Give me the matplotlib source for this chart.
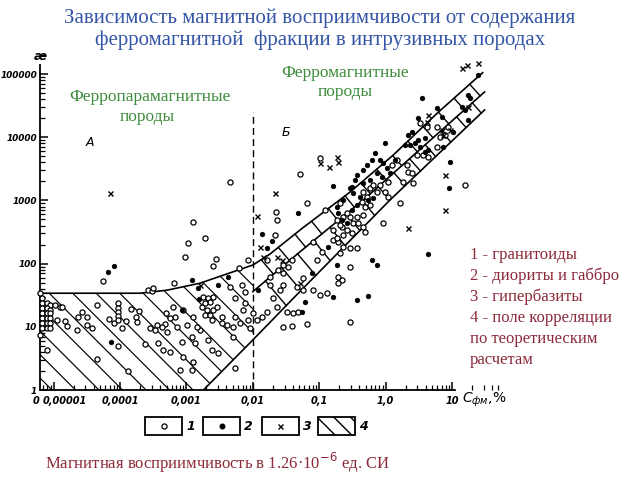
import numpy as np
import matplotlib
matplotlib.use('Agg')
import matplotlib.pyplot as plt
import matplotlib.transforms as mtransforms
from matplotlib.patches import Polygon, Rectangle
from matplotlib.ticker import LogLocator, NullFormatter

# ---------------- data (C_fm in %, kappa in 1.26e-6 SI units) ----------------
# 1 - granitoids (open circles)
gran_C = [6.2e-6, 6.7e-6, 6.7e-6, 7.9e-6, 8.8e-6, 1.05e-5, 1.25e-5, 6.7e-6, 7.9e-6, 8.8e-6,
          6.7e-6, 7.9e-6, 8.8e-6, 6.7e-6, 7.9e-6, 8.8e-6, 1.12e-5, 6.7e-6, 7.9e-6, 8.8e-6,
          6.7e-6, 7.9e-6, 8.8e-6, 6.2e-6, 7.9e-6, 1.34e-5,
          5.5e-5, 1.49e-5, 1.6e-5, 2.25e-5, 2.3e-5, 2.7e-5, 3.2e-5, 3.2e-5, 3.8e-5, 4.5e-5,
          6.8e-5, 8.1e-5, 9.3e-5, 9.3e-5, 9.3e-5, 9.3e-5, 9.3e-5, 1.07e-4, 1.23e-4, 1.47e-4,
          1.74e-4, 1.8e-4, 1.93e-4, 2.4e-4, 9.3e-5, 4.5e-5, 1.32e-4, 2.8e-4, 2.6e-4, 3.0e-4,
          4.5e-3, 1.26e-3, 1.9e-3, 1.06e-3, 9.5e-4, 2.8e-3, 2.5e-3, 6.5e-4, 6.2e-3, 8.5e-3,
          3.1e-4, 3.6e-4, 4.8e-4, 6.3e-4, 6.7e-4, 8.9e-4, 1.02e-3, 1.26e-3, 1.72e-3, 1.78e-3,
          2.1e-3, 2.26e-3, 2.5e-3, 1.9e-3, 2.04e-3, 2.5e-3, 2.9e-3, 1.9e-3, 2.26e-3, 2.43e-3,
          1.21e-3, 1.35e-3, 8.6e-4, 1.6e-3, 1.44e-3, 2.1e-3, 2.43e-3, 3.0e-3, 1.26e-3, 8.9e-4,
          1.21e-3, 8.0e-4, 3.4e-3, 3.4e-3, 4.1e-3, 5.0e-3, 6.4e-3, 5.4e-3, 5.4e-3, 4.5e-3,
          6.9e-3, 7.6e-3, 7.6e-3, 7.1e-3, 5.0e-3, 8.5e-3, 9.1e-3, 5.4e-3, 4.9e-4, 5.7e-4,
          7.2e-4, 3.4e-4, 4.3e-4, 5.1e-4, 3.7e-4, 5.7e-4, 4.4e-4,
          2.2e-2, 2.3e-2, 2.16e-2, 6.5e-2, 0.122, 0.206, 0.26, 0.32, 0.185, 0.22,
          0.23, 0.161, 0.19, 8.1e-2, 0.11, 9.3e-2, 0.206, 0.19, 0.22, 0.19,
          0.29, 0.131, 0.103, 8.1e-2, 5.7e-2, 4.6e-2, 2.85e-2, 2.6e-2, 1.8e-2, 2.85e-2,
          3.4e-2, 3.9e-2, 2.85e-2, 2.4e-2, 1.64e-2, 1.8e-2, 1.38e-2, 1.0e-2, 1.16e-2, 2.0e-2,
          2.3e-2, 3.3e-2, 4.0e-2, 4.8e-2, 2.85e-2, 3.9e-2, 6.5e-2, 0.29, 0.29, 0.37,
          5.7e-2, 1.64e-2, 1.65, 0.91, 5.1e-2, 0.103, 15.7,
          3.3, 4.2, 2.17, 1.83, 2.5, 2.59, 1.48, 1.25, 1.09, 0.82,
          0.74, 0.98, 1.09, 0.58, 0.65, 0.52, 0.46, 0.44, 0.49, 0.58,
          0.46, 0.37, 0.29, 0.23, 0.206, 0.26, 0.31, 0.38, 0.46, 0.49,
          0.161, 0.185, 0.23,
          5.94, 6.6, 7.8, 8.7, 5.94, 2.97, 3.66, 2.1, 4.35]
gran_K = [34, 28.6, 23.8, 23.8, 22.1, 22.1, 20.6, 19.8, 19.8, 18.4,
          16.5, 16.5, 16.5, 13.8, 13.8, 13.8, 12.8, 11.5, 11.5, 11.5,
          9.6, 9.6, 9.6, 7.4, 4.3, 20.6,
          53, 12.4, 10.3, 8.9, 14.3, 17.1, 14.3, 10.7, 9.6, 22.1,
          13.3, 11.5, 23.8, 19.8, 17.1, 14.8, 12.8, 9.6, 12.4, 19.1,
          14.3, 11.9, 17.8, 5.3, 5.0, 3.1, 2.0, 9.6, 38, 37,
          1950, 460, 250, 210, 127, 118, 92, 49, 85, 114,
          41, 10.7, 11.1, 20.6, 14.3, 18.4, 10.7, 14.3, 20.6, 30,
          28.6, 24.7, 30, 23.8, 18.4, 18.4, 20.6, 15.4, 15.4, 12.8,
          6.9, 5.5, 5.7, 8.9, 9.9, 6.2, 4.3, 3.85, 2.8, 3.3,
          2.07, 2.07, 14.3, 11.5, 10.7, 9.9, 11.5, 14.3, 28.6, 43,
          46, 36, 23.8, 18.4, 6.9, 12.8, 9.6, 2.2, 16.5, 13.8,
          9.9, 8.9, 9.9, 8.3, 5.5, 4.0, 4.3,
          650, 490, 280, 910, 700, 910, 630, 440, 490, 380,
          280, 240, 220, 220, 153, 114, 147, 61, 55, 49,
          88, 34, 32, 38, 38, 43, 46, 38, 61, 71,
          88, 114, 95, 79, 114, 46, 14.3, 16.5, 12.8, 28.6,
          20.6, 17.1, 16.5, 17.1, 9.9, 10.3, 11.1, 11.9, 177, 177,
          59, 17.1, 910, 440, 2600, 4700, 1750,
          16800, 14500, 2800, 1950, 2700, 1900, 4400, 3600, 1950, 1750,
          1360, 1360, 1130, 1570, 1750, 1130, 1360, 940, 790, 850,
          590, 550, 550, 550, 410, 340, 300, 440, 380, 320,
          340, 250, 180,
          14500, 10100, 10800, 14500, 7000, 5200, 5200, 3600, 4900]

# 2 - diorites and gabbro (filled dots)
dior_C = [6.6e-5, 8.1e-5, 7.3e-5, 1.21e-3, 1.5e-3, 1.55e-3, 8.6e-4, 3.0e-3, 4.2e-3, 0.161,
          0.31, 1.38e-2, 1.64e-2, 1.95e-2, 4.8e-2, 1.2e-2, 6.1e-2, 5.5e-2, 7.8e-2, 0.136,
          0.185, 0.161, 0.37, 0.23, 4.35, 0.62, 0.74, 0.54, 0.98, 2.5,
          1.96, 3.08, 3.92, 0.82, 0.91, 1.05, 0.62, 0.69, 0.52, 0.46,
          0.37, 0.35, 0.29, 0.32, 0.41, 0.37, 0.31, 0.185, 0.46, 0.58,
          0.74, 0.88, 1.16, 1.38, 0.54, 0.65, 2.33, 0.22, 0.19, 0.26,
          24.6, 17.4, 18.7, 14.1, 15.7, 3.53, 5.94, 7.06, 3.08, 2.17,
          3.3, 3.92, 9.3, 17.4, 10.4, 7.3, 2.77, 4.35, 9.0]
dior_K = [74, 92, 5.7, 55, 41, 27.5, 18.4, 46, 61, 1700,
          1630, 290, 177, 230, 630, 38, 24.7, 17.1, 71, 180,
          95, 30, 26.5, 1010, 142, 114, 95, 31, 8100, 12100,
          7500, 9000, 5800, 4400, 3900, 3300, 4400, 5600, 3600, 3000,
          2500, 2100, 1570, 1310, 1130, 850, 700, 790, 1900, 2100,
          2700, 2350, 2700, 4400, 1010, 1090, 7500, 490, 630, 440,
          96000, 46500, 41700, 30000, 26900, 41700, 29000, 20900, 20100, 10800,
          7000, 9700, 4100, 18700, 12100, 7000, 8100, 6300, 1570]

# 3 - hyperbasites (crosses)
hyp_C = [7.1e-5, 1.16e-2, 2.16e-2, 1.28e-2, 1.43e-2, 2.3e-2, 2.75e-2, 5.1e-2, 7.8, 2.17,
         0.185, 0.19, 0.103, 0.14, 14.1, 16.8, 24.6, 17.4, 9.3, 7.06,
         7.3, 4.35, 4.2, 7.8, 1.6e-3]
hyp_K = [1310, 570, 1310, 180, 127, 127, 114, 49, 700, 370,
         4900, 4100, 3900, 3400, 124000, 139000, 149000, 30000, 13000, 13000,
         10800, 22400, 17400, 2500, 46]

# 4 - correlation field from theoretical calculation (boundaries)
field_top_C = [6.2e-6, 2.0e-4, 5.1e-4, 1.6e-3, 5.0e-3, 1.0e-2]
field_top_K = [34, 34, 38, 49, 74, 95]
band_top_C = [1.0e-2, 1.8e-2, 5.6e-2, 0.29, 1.3, 6.0, 29]
band_top_K = [95, 141, 365, 1350, 5200, 24000, 105000]
band_mid_C = [1.0e-2, 5.1e-2, 0.46, 3.9, 31]
band_mid_K = [36, 153, 1010, 7500, 52000]
band_low_C = [1.8e-3, 1.0e-2, 5.1e-2, 1.16, 31]
band_low_K = [1, 6.2, 36, 1010, 27000]
divider_C = 0.01
divider_K = [1, 25000]

x_ticks = [1e-5, 1e-4, 1e-3, 1e-2, 1e-1, 1, 10]
x_labels = ['0,00001', '0,0001', '0,001', '0,01', '0,1', '1,0', '10']
y_ticks = [1, 10, 100, 1000, 10000, 100000]
y_labels = ['1', '10', '100', '1000', '10000', '100000']

legend_items = ['1 - гранитоиды', '2 - диориты и габбро', '3 - гипербазиты',
                '4 - поле корреляции', 'по теоретическим', 'расчетам']

# ---------------- figure ----------------
fig = plt.figure(figsize=(6.4, 4.8), dpi=100)
ax = fig.add_axes([40 / 640, 90 / 480, 460 / 640, 335 / 480])
ax.set_xscale('log')
ax.set_yscale('log')
ax.set_xlim(6.2e-6, 53)
ax.set_ylim(1, 2.0e5)
ax.patch.set_alpha(0)
for s in ['top', 'right']:
    ax.spines[s].set_visible(False)
ax.spines['bottom'].set_bounds(6.2e-6, 11.1)
ax.spines['left'].set_bounds(1, 1.38e5)
for s in ['bottom', 'left']:
    ax.spines[s].set_linewidth(1.3)

ax.set_xticks(x_ticks)
ax.set_xticklabels(x_labels)
ax.set_yticks(y_ticks)
ax.set_yticklabels(y_labels)
ax.xaxis.set_minor_locator(LogLocator(base=10, subs=np.arange(2, 10), numticks=100))
ax.yaxis.set_minor_locator(LogLocator(base=10, subs=np.arange(2, 10), numticks=100))
ax.xaxis.set_minor_formatter(NullFormatter())
ax.yaxis.set_minor_formatter(NullFormatter())
ax.tick_params(which='major', direction='in', length=6, width=1.1, pad=4)
ax.tick_params(which='minor', direction='in', length=3.5, width=0.9)
ax.tick_params(axis='y', which='major', pad=2)
for lab in ax.get_xticklabels():
    lab.set_fontstyle('italic')
    lab.set_fontsize(7)
    lab.set_fontweight('semibold')
for lab in ax.get_yticklabels():
    lab.set_fontstyle('italic')
    lab.set_fontsize(6.4)
    lab.set_fontweight('semibold')
# first x label sits a little to the right of its tick
first = ax.get_xticklabels()[0]
first.set_transform(first.get_transform() +
                    mtransforms.ScaledTranslation(11 / 100, 0, fig.dpi_scale_trans))

T = ax.transData
inv = T.inverted()

# region A polygon (used for clipping the hatching)
verts = list(zip(field_top_C, field_top_K)) + [(band_low_C[1], band_low_K[1]),
                                              (band_low_C[0], band_low_K[0]),
                                              (field_top_C[0], 1)]
poly = Polygon(verts, closed=True, fill=False, edgecolor='none')
ax.add_patch(poly)

dv = T.transform(np.array(verts))
ssum = dv[:, 0] + dv[:, 1]
x_lo, x_hi = dv[:, 0].min() - 10, dv[:, 0].max() + 10
for c in np.arange(ssum.min() + 12, ssum.max(), 23.5):
    p = inv.transform(np.array([[x_lo, c - x_lo], [x_hi, c - x_hi]]))
    ln, = ax.plot(p[:, 0], p[:, 1], color='black', lw=0.85)
    ln.set_clip_path(poly)

# boundary lines
ax.plot(field_top_C + band_top_C[1:], field_top_K + band_top_K[1:], color='black', lw=1.2)
ax.plot(band_mid_C, band_mid_K, color='black', lw=1.2)
ax.plot(band_low_C, band_low_K, color='black', lw=1.2)
ax.plot([divider_C, divider_C], divider_K, color='black', lw=1.0, ls=(0, (5, 3)))

# cross segments of the band (perpendicular to it, staggered)
top_d = T.transform(np.column_stack([band_top_C, band_top_K]))
mid_d = T.transform(np.column_stack([band_mid_C, band_mid_K]))
low_d = T.transform(np.column_stack([band_low_C, band_low_K]))
seg = np.diff(mid_d, axis=0)
seg_len = np.hypot(seg[:, 0], seg[:, 1])
cum = np.concatenate([[0], np.cumsum(seg_len)])


def point_on(s):
    i = min(np.searchsorted(cum, s, side='right') - 1, len(seg) - 1)
    i = max(i, 0)
    t = seg[i] / seg_len[i]
    return mid_d[i] + t * (s - cum[i]), t


def hit(p, n, pl):
    best = None
    for a, b in zip(pl[:-1], pl[1:]):
        M = np.array([[n[0], -(b - a)[0]], [n[1], -(b - a)[1]]])
        if abs(np.linalg.det(M)) < 1e-9:
            continue
        tt, u = np.linalg.solve(M, a - p)
        if -0.05 <= u <= 1.05 and tt > 0:
            if best is None or tt < best:
                best = tt
    return None if best is None else p + best * n


step = 21.0
for k, s in enumerate(np.arange(6, cum[-1], step / 2)):
    p, t = point_on(s)
    n = np.array([-t[1], t[0]])
    if k % 2 == 0:
        q = hit(p, n, top_d)
    else:
        q = hit(p, -n, low_d)
    if q is None:
        continue
    d = inv.transform(np.array([p, q]))
    ax.plot(d[:, 0], d[:, 1], color='black', lw=1.0)
# end cap
p, t = point_on(cum[-1])
n = np.array([-t[1], t[0]])
q1 = hit(p - 2 * t, n, top_d)
q2 = hit(p - 2 * t, -n, low_d)
if q1 is not None and q2 is not None:
    ext = (q1 - q2) / np.hypot(*(q1 - q2)) * 5
    d = inv.transform(np.array([q1 + ext, q2 - ext]))
    ax.plot(d[:, 0], d[:, 1], color='black', lw=1.0)

# scatter points
ax.plot(gran_C, gran_K, ls='none', marker='o', ms=3.7, mfc='white', mec='black',
        mew=0.9, clip_on=False, zorder=5)
ax.plot(dior_C, dior_K, ls='none', marker='o', ms=3.3, mfc='black', mec='black',
        mew=0.5, clip_on=False, zorder=6)
ax.plot(hyp_C, hyp_K, ls='none', marker='x', ms=3.6, mec='black', mew=1.0,
        clip_on=False, zorder=6)

# ---------------- overlay for texts and legend ----------------
ov = fig.add_axes([0, 0, 1, 1])
ov.set_xlim(0, 640)
ov.set_ylim(480, 0)
ov.axis('off')
ov.patch.set_alpha(0)

serif = 'Liberation Serif'
title_col = '#3556a6'
green = '#3d8c3d'
red = '#8c2a3c'

ov.text(320, 18, 'Зависимость магнитной восприимчивости от содержания',
        ha='center', va='center', fontsize=15, color=title_col, family=serif)
ov.text(320, 40, 'ферромагнитной  фракции в интрузивных породах',
        ha='center', va='center', fontsize=15, color=title_col, family=serif)

ov.text(150, 97, 'Ферропарамагнитные', ha='center', va='center', fontsize=12.5,
        color=green, family=serif)
ov.text(147, 117, 'породы', ha='center', va='center', fontsize=12.5, color=green, family=serif)
ov.text(345, 73, 'Ферромагнитные', ha='center', va='center', fontsize=12.5,
        color=green, family=serif)
ov.text(345, 92, 'породы', ha='center', va='center', fontsize=12.5, color=green, family=serif)

for i, s in enumerate(legend_items):
    ov.text(470, 255 + i * 21, s, ha='left', va='center', fontsize=12, color=red, family=serif)

ov.text(390, 463, 'Магнитная восприимчивость в 1.26·10$^{-6}$ ед. СИ', ha='right',
        va='center', fontsize=12, color=red, family=serif)

# axis annotations
ov.text(40, 57, 'æ', ha='center', va='center', fontsize=9, fontweight='bold', style='italic')
ov.text(36, 401, '0', ha='center', va='center', fontsize=7, style='italic',
        fontweight='semibold')
ov.text(90, 142, 'A', ha='center', va='center', fontsize=9, style='italic')
ov.text(286, 133, 'Б', ha='center', va='center', fontsize=9, style='italic')
ov.text(462, 400, r'$C_{фм}$,%', ha='left', va='center', fontsize=10)

# legend boxes
box_x = [145, 203, 262, 318]
for i, bx in enumerate(box_x):
    r = Rectangle((bx, 417), 37, 18, fill=False, lw=1.3, edgecolor='black',
                  hatch='\\\\' if i == 3 else None)
    ov.add_patch(r)
    ov.text(bx + 41, 426, str(i + 1), ha='left', va='center', fontsize=9,
            style='italic', fontweight='bold')
ov.plot([163.5], [426], marker='o', ms=3.7, mfc='white', mec='black', mew=0.9)
ov.plot([221.5], [426], marker='o', ms=3.3, color='black')
ov.plot([280], [426], marker='x', ms=3.6, mec='black', mew=1.0)

fig.savefig('out.png', dpi=100)
